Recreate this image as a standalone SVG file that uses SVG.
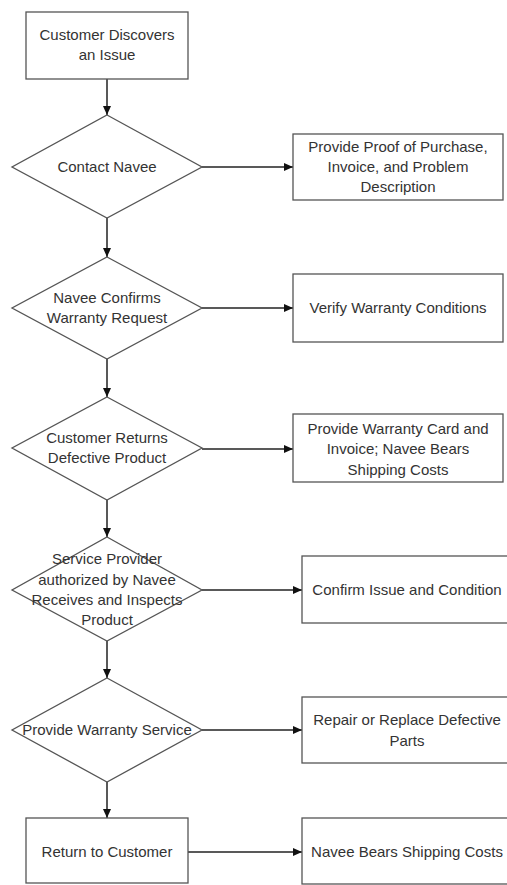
<svg xmlns="http://www.w3.org/2000/svg" width="507" height="885" viewBox="0 0 507 885">
<style>
.n{fill:#fff;stroke:#555;stroke-width:1.3}
.t{font-family:"Liberation Sans",Arial,sans-serif;font-size:15px;fill:#333;text-anchor:middle}
.c{stroke:#222;stroke-width:1.5;fill:none;marker-end:url(#ah)}
</style>
<defs>
<marker id="ah" markerUnits="userSpaceOnUse" markerWidth="10" markerHeight="10" refX="9" refY="5" orient="auto">
<path d="M0,1 L9,5 L0,9 Z" fill="#111"/>
</marker>
</defs>
<rect width="507" height="885" fill="#fff"/>
<g id="connectors">
<line class="c" x1="107" y1="79" x2="107" y2="115"/>
<line class="c" x1="107" y1="218" x2="107" y2="257"/>
<line class="c" x1="107" y1="359" x2="107" y2="397"/>
<line class="c" x1="107" y1="500" x2="107" y2="537"/>
<line class="c" x1="107" y1="641" x2="107" y2="678"/>
<line class="c" x1="107" y1="782" x2="107" y2="818"/>
<line class="c" x1="202" y1="167" x2="293" y2="167"/>
<line class="c" x1="202" y1="308" x2="293" y2="308"/>
<line class="c" x1="202" y1="449" x2="293" y2="449"/>
<line class="c" x1="202" y1="590" x2="302" y2="590"/>
<line class="c" x1="202" y1="730" x2="302" y2="730"/>
<line class="c" x1="188" y1="852" x2="302" y2="852"/>
</g>
<g id="n1">
<rect class="n" x="26" y="12" width="162" height="67"/>
<text class="t" x="107" y="40">Customer Discovers</text>
<text class="t" x="107" y="60">an Issue</text>
</g>
<g id="n2">
<polygon class="n" points="107,115 202,167 107,218 12,167"/>
<text class="t" x="107" y="172">Contact Navee</text>
</g>
<g id="n3">
<rect class="n" x="293" y="134" width="210" height="66"/>
<text class="t" x="398" y="152">Provide Proof of Purchase,</text>
<text class="t" x="398" y="172">Invoice, and Problem</text>
<text class="t" x="398" y="192">Description</text>
</g>
<g id="n4">
<polygon class="n" points="107,257 202,308 107,359 12,308"/>
<text class="t" x="107" y="303">Navee Confirms</text>
<text class="t" x="107" y="323">Warranty Request</text>
</g>
<g id="n5">
<rect class="n" x="293" y="274" width="210" height="68"/>
<text class="t" x="398" y="313">Verify Warranty Conditions</text>
</g>
<g id="n6">
<polygon class="n" points="107,397 202,448 107,500 12,448"/>
<text class="t" x="107" y="443">Customer Returns</text>
<text class="t" x="107" y="463">Defective Product</text>
</g>
<g id="n7">
<rect class="n" x="293" y="414" width="210" height="68"/>
<text class="t" x="398" y="434">Provide Warranty Card and</text>
<text class="t" x="398" y="454">Invoice; Navee Bears</text>
<text class="t" x="398" y="475">Shipping Costs</text>
</g>
<g id="n8">
<polygon class="n" points="107,537 202,590 107,641 12,590"/>
<text class="t" x="107" y="564">Service Provider</text>
<text class="t" x="107" y="585">authorized by Navee</text>
<text class="t" x="107" y="605">Receives and Inspects</text>
<text class="t" x="107" y="625">Product</text>
</g>
<g id="n9">
<rect class="n" x="302" y="556" width="210" height="67"/>
<text class="t" x="407" y="595">Confirm Issue and Condition</text>
</g>
<g id="n10">
<polygon class="n" points="107,678 202,730 107,782 12,730"/>
<text class="t" x="107" y="735">Provide Warranty Service</text>
</g>
<g id="n11">
<rect class="n" x="302" y="697" width="210" height="66"/>
<text class="t" x="407" y="725">Repair or Replace Defective</text>
<text class="t" x="407" y="746">Parts</text>
</g>
<g id="n12">
<rect class="n" x="26" y="818" width="162" height="65"/>
<text class="t" x="107" y="857">Return to Customer</text>
</g>
<g id="n13">
<rect class="n" x="302" y="818" width="210" height="66"/>
<text class="t" x="407" y="857">Navee Bears Shipping Costs</text>
</g>
</svg>
